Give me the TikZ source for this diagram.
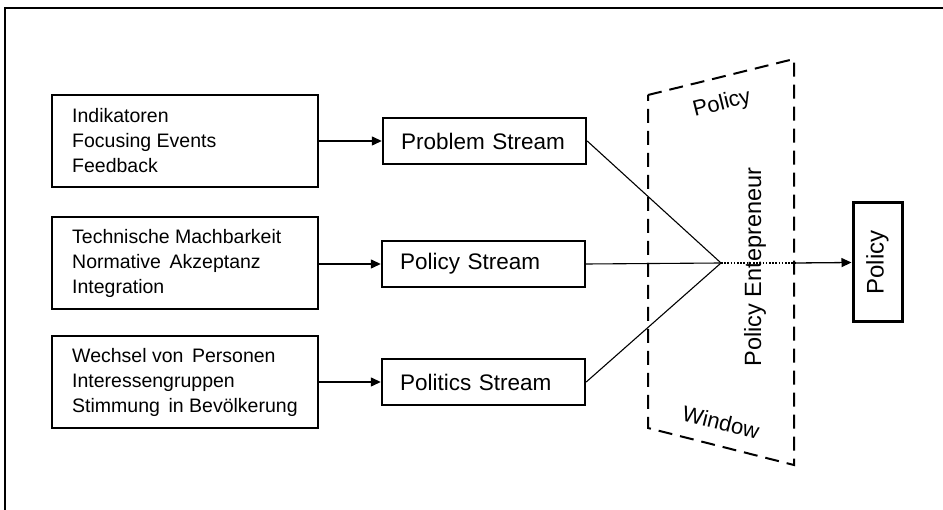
\documentclass[tikz,border=0pt]{standalone}
\usepackage{fontspec}
\setmainfont{Liberation Sans}
\usetikzlibrary{arrows.meta}
\begin{document}
\begin{tikzpicture}[x=1pt,y=-1pt,
  srcbox/.style={draw, line width=2.4pt, minimum width=266pt, minimum height=92pt},
  srctext/.style={anchor=west, inner sep=0pt, align=left, font=\fontsize{19.5}{25}\selectfont},
  streambox/.style={draw, line width=2.4pt, minimum width=203pt, minimum height=46pt,
    text width=167pt, inner xsep=18pt, align=left, font=\fontsize{22.5}{25}\selectfont},
  conn/.style={line width=1.1pt},
  arr/.style={line width=1.3pt, -{Triangle[length=10pt,width=9pt]}},
  win/.style={line width=2pt, dash pattern=on 14pt off 8pt},
  lbl/.style={font=\fontsize{22}{25}\selectfont, inner sep=0pt}]
\useasboundingbox (0,0) rectangle (943,510);
% frame
\draw[line width=2pt] (943,8) -- (5,8) -- (5,510);
% source boxes
\node[srcbox] (s1) at (185,141) {};
\node[srcbox] (s2) at (185,263) {};
\node[srcbox] (s3) at (185,382) {};
\node[srctext] (t1) at (72,141) {Indikatoren\\Focusing Events\\Feedback};
\node[srctext] (t2) at (72,263) {Technische Machbarkeit\\Normative\ \,Akzeptanz\\Integration};
\node[srctext] (t3) at (72,382) {Wechsel von\ \,Personen\\Interessengruppen\\Stimmung\ \,in Bev\"olkerung};
% stream boxes
\node[streambox] (p1) at (484.5,141) {Problem Stream};
\node[streambox] (p2) at (483.5,264) {Policy Stream};
\node[streambox] (p3) at (483.5,382) {Politics Stream};
% arrows
\draw[arr] (s1.east) -- (p1.west);
\draw[arr] (s2.east |- p2.west) -- (p2.west);
\draw[arr] (s3.east) -- (p3.west);
% window
\coordinate (w1) at (648,95);
\coordinate (w2) at (794,59);
\coordinate (w3) at (794,465);
\coordinate (w4) at (648,428);
\draw[win] (w1) -- (w2) -- (w3) -- (w4) -- cycle;
\node[lbl, rotate=14] (lp) at (722,104) {Policy};
\node[lbl, rotate=-14] (lw) at (721,422) {Window};
\node[lbl, rotate=90, font=\fontsize{23.5}{25}\selectfont] (pe) at (755,267) {Policy Entepreneur};
% convergence
\coordinate (c) at (721,263);
\coordinate (d) at (795,263);
\draw[conn] (p1.east) -- (c);
\draw[conn] (p2.east) -- (c);
\draw[conn] (p3.east) -- (c);
\draw[line width=2pt, dash pattern=on 1.6pt off 1.6pt] (c) -- (d);
% result
\node[draw, line width=3pt, minimum width=49pt, minimum height=119pt] (res) at (877.5,262.5) {};
\node[lbl, rotate=90, font=\fontsize{24}{25}\selectfont] (rt) at (res.center) {Policy};
\draw[arr] (d) -- (res.west);
\end{tikzpicture}
\end{document}
